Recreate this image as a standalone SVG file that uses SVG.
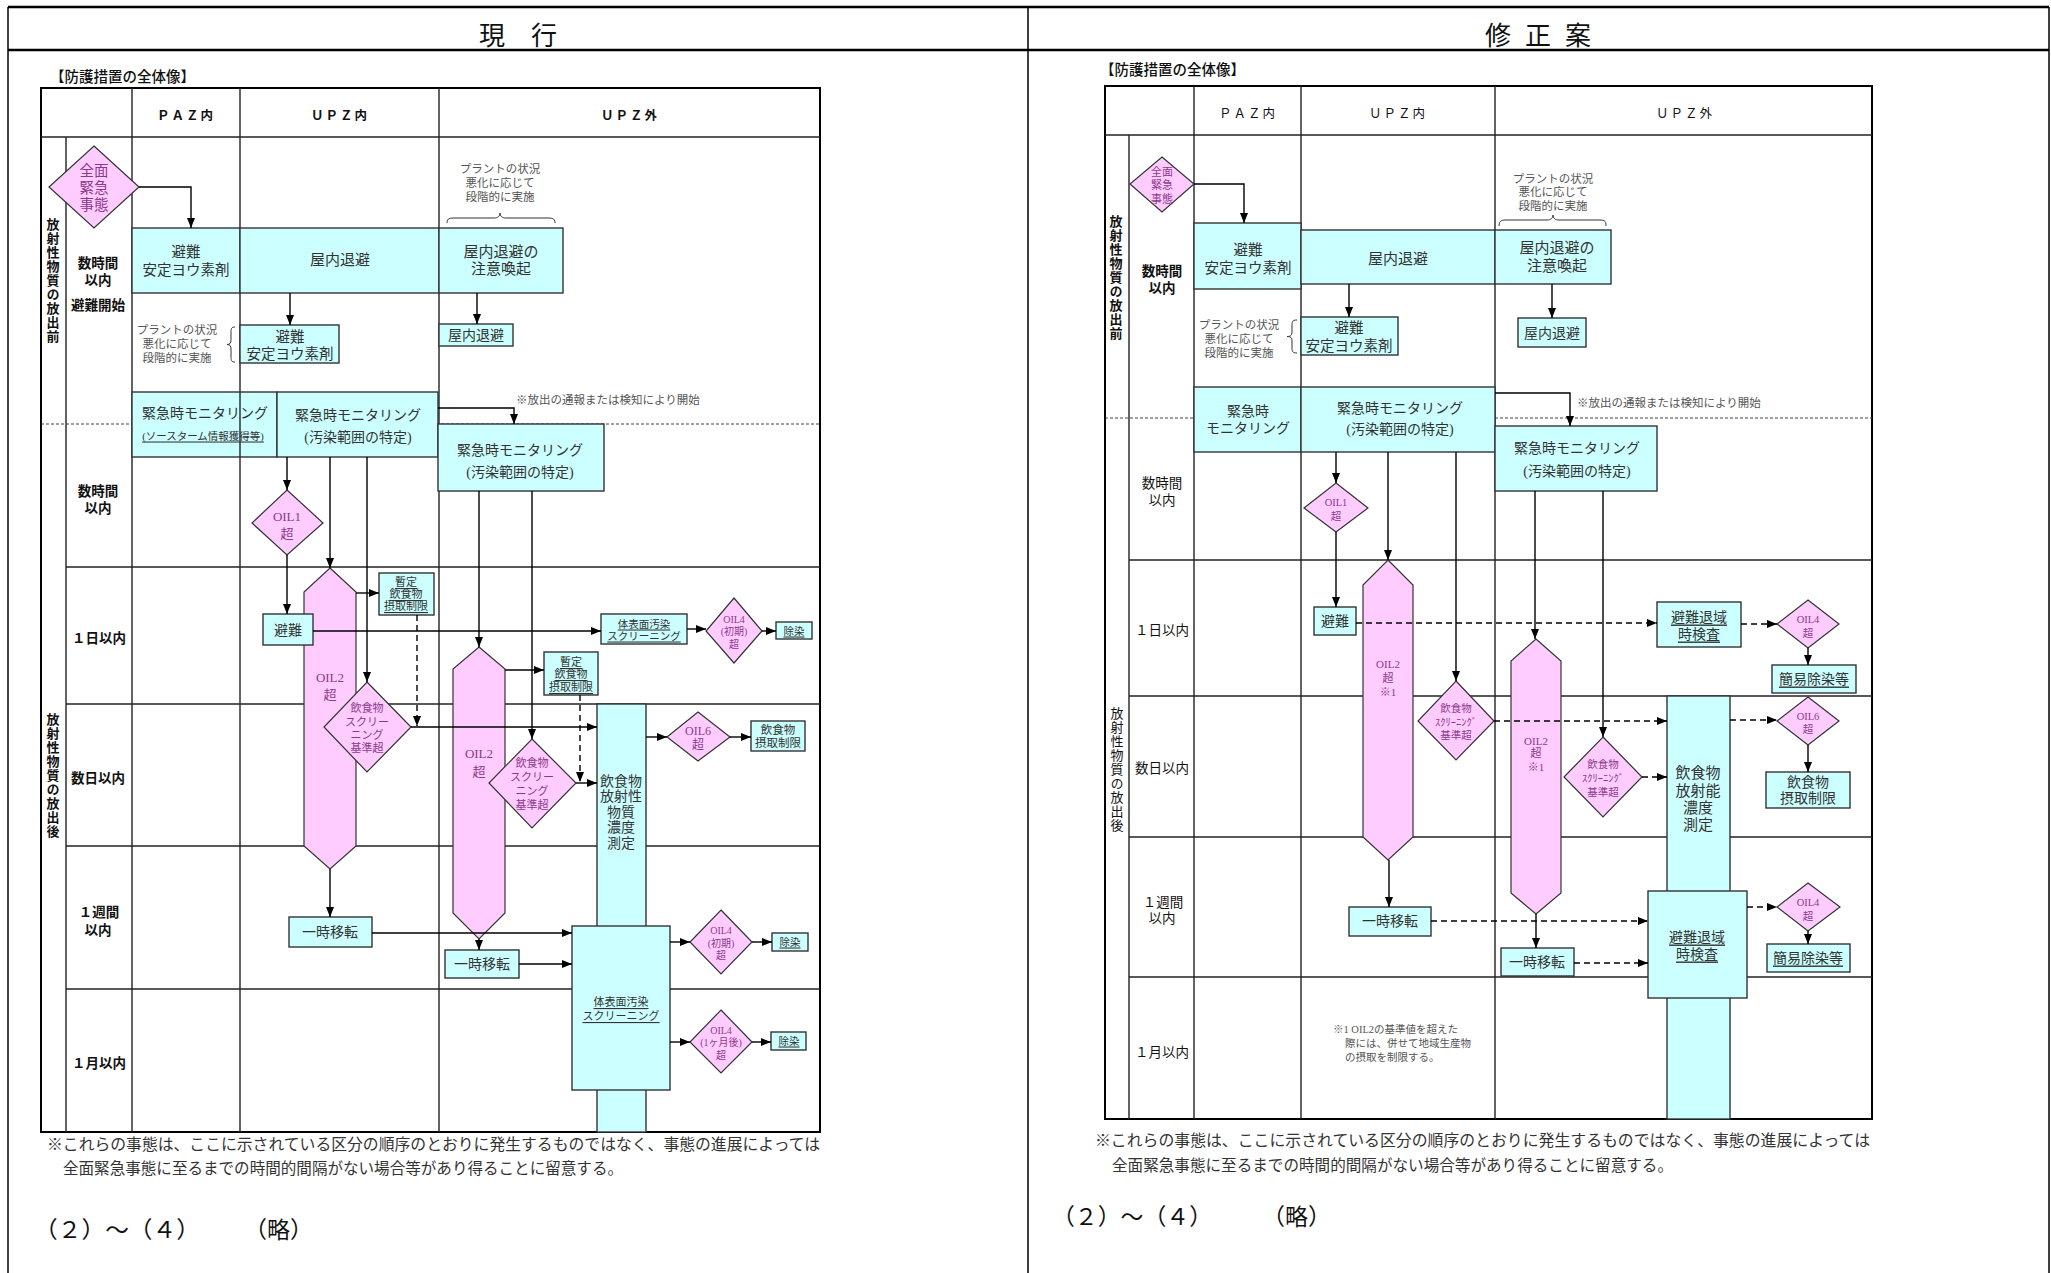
<svg xmlns="http://www.w3.org/2000/svg" width="2051" height="1273" viewBox="0 0 2051 1273">
<defs>
<marker id="ah" markerUnits="userSpaceOnUse" markerWidth="10" markerHeight="8" refX="10" refY="4" orient="auto"><path d="M0,0 L10,4 L0,8 z" fill="#000"/></marker>
<style>
.f{fill:none;stroke:#000;stroke-width:2}
.tl{stroke:#222;stroke-width:1.4}
.dl{stroke:#444;stroke-width:1;stroke-dasharray:3 2}
.c{fill:#ccffff;stroke:#333;stroke-width:1.4}
.p{fill:#ffccff;stroke:#333;stroke-width:1.2}
.a{fill:none;stroke:#000;stroke-width:1.4;marker-end:url(#ah)}
.ad{fill:none;stroke:#000;stroke-width:1.4;stroke-dasharray:6 4;marker-end:url(#ah)}
.br{fill:none;stroke:#333;stroke-width:1}
text{dominant-baseline:central;text-anchor:middle}
.m{font-family:"Liberation Serif","Noto Sans CJK JP",serif;fill:#333}
.g{font-family:"Noto Sans CJK JP",sans-serif;font-weight:bold;fill:#111}
.n{font-family:"Noto Sans CJK JP",sans-serif;fill:#111}
.d{font-family:"Liberation Serif","Noto Sans CJK JP",serif;fill:#8b3a8b}
.u{text-decoration:underline}
.s{fill:#555}
.st{text-anchor:start}
.v{writing-mode:vertical-rl;text-anchor:start;letter-spacing:1px}
</style>
</defs>
<rect width="2051" height="1273" fill="#fff"/>
<!-- frame -->
<g id="frame">
<line x1="8" y1="7" x2="2049" y2="7" stroke="#000" stroke-width="2.5"/>
<line x1="8" y1="50" x2="2049" y2="50" stroke="#000" stroke-width="2.5"/>
<line x1="8" y1="7" x2="8" y2="1273" stroke="#000" stroke-width="1.5"/>
<line x1="1028" y1="7" x2="1028" y2="1273" stroke="#000" stroke-width="1.5"/>
<line x1="2049" y1="7" x2="2049" y2="1273" stroke="#000" stroke-width="1.5"/>
<text class="n" x="518" y="33" font-size="26">現　行</text>
<text class="n" x="1498" y="33" font-size="26">修</text>
<text class="n" x="1538" y="33" font-size="26">正</text>
<text class="n" x="1578" y="33" font-size="26">案</text>
</g>
<!-- left table -->
<g id="left-table">
<text class="n st" x="50" y="75" font-size="14.5" font-weight="500">【防護措置の全体像】</text>
<rect class="f" x="41" y="88" width="779" height="1044"/>
<line class="tl" x1="41" y1="137" x2="820" y2="137"/>
<line class="tl" x1="66" y1="137" x2="66" y2="1132"/>
<line class="tl" x1="132" y1="88" x2="132" y2="1132"/>
<line class="tl" x1="240" y1="88" x2="240" y2="1132"/>
<line class="tl" x1="439" y1="88" x2="439" y2="1132"/>
<line class="tl" x1="66" y1="567" x2="820" y2="567"/>
<line class="tl" x1="66" y1="704" x2="820" y2="704"/>
<line class="tl" x1="66" y1="846" x2="820" y2="846"/>
<line class="tl" x1="66" y1="989" x2="820" y2="989"/>
<line class="dl" x1="41" y1="424" x2="820" y2="424"/>
<text class="g" x="186" y="114" font-size="12.5" letter-spacing="2">ＰＡＺ内</text>
<text class="g" x="340" y="114" font-size="12.5" letter-spacing="2">ＵＰＺ内</text>
<text class="g" x="630" y="114" font-size="12.5" letter-spacing="2">ＵＰＺ外</text>
<text class="g v" x="53" y="218" font-size="13">放射性物質の放出前</text>
<text class="g v" x="53" y="713" font-size="13">放射性物質の放出後</text>
<text class="g" x="98" y="262" font-size="13.5">数時間</text>
<text class="g" x="98" y="279" font-size="13.5">以内</text>
<text class="g" x="98" y="304" font-size="13.5">避難開始</text>
<text class="g" x="98" y="490" font-size="13.5">数時間</text>
<text class="g" x="98" y="507" font-size="13.5">以内</text>
<text class="g" x="99" y="637" font-size="13.5">１日以内</text>
<text class="g" x="98" y="777" font-size="13.5">数日以内</text>
<text class="g" x="99" y="911" font-size="13.5">１週間</text>
<text class="g" x="98" y="929" font-size="13.5">以内</text>
<text class="g" x="99" y="1062" font-size="13.5">１月以内</text>
<text class="m s" x="500" y="169" font-size="11.5">プラントの状況</text>
<text class="m s" x="500" y="183" font-size="11.5">悪化に応じて</text>
<text class="m s" x="500" y="197" font-size="11.5">段階的に実施</text>
<path class="br" d="M447,223 C447,218 450,218 456,218 L494,218 C498,218 500,216 500,213 C500,216 502,218 506,218 L546,218 C552,218 555,218 555,223"/>
<text class="m s" x="177" y="330" font-size="11.5">プラントの状況</text>
<text class="m s" x="177" y="344" font-size="11.5">悪化に応じて</text>
<text class="m s" x="177" y="358" font-size="11.5">段階的に実施</text>
<path class="br" d="M235,327 C231,327 231,329 231,333 L231,340 C231,343 230,344.5 227,344.5 C230,344.5 231,346 231,349 L231,356 C231,360 231,362 235,362"/>
<text class="m s st" x="516" y="400" font-size="11.5">※放出の通報または検知により開始</text>
<text class="m" x="47" y="1144" font-size="15.5" textLength="773" lengthAdjust="spacingAndGlyphs" style="text-anchor:start">※これらの事態は、ここに示されている区分の順序のとおりに発生するものではなく、事態の進展によっては</text>
<text class="m" x="63" y="1168" font-size="15.5" textLength="560" lengthAdjust="spacingAndGlyphs" style="text-anchor:start">全面緊急事態に至るまでの時間的間隔がない場合等があり得ることに留意する。</text>
<text class="n st" x="34" y="1228" font-size="23" textLength="166" lengthAdjust="spacingAndGlyphs">（２）～（４）</text>
<text class="n st" x="244" y="1228" font-size="23">（略）</text>
</g>
<!-- right table -->
<g id="right-table">
<text class="n st" x="1100" y="68" font-size="14.5" font-weight="500">【防護措置の全体像】</text>
<rect class="f" x="1105" y="86" width="767" height="1033"/>
<line class="tl" x1="1105" y1="135" x2="1872" y2="135"/>
<line class="tl" x1="1129" y1="135" x2="1129" y2="1119"/>
<line class="tl" x1="1194" y1="86" x2="1194" y2="1119"/>
<line class="tl" x1="1301" y1="86" x2="1301" y2="1119"/>
<line class="tl" x1="1495" y1="86" x2="1495" y2="1119"/>
<line class="tl" x1="1129" y1="560" x2="1872" y2="560"/>
<line class="tl" x1="1129" y1="696" x2="1872" y2="696"/>
<line class="tl" x1="1129" y1="837" x2="1872" y2="837" stroke="#777" stroke-width="2"/>
<line class="tl" x1="1129" y1="977" x2="1872" y2="977" stroke="#555"/>
<line class="dl" x1="1105" y1="418" x2="1872" y2="418"/>
<text class="n" x="1248" y="112" font-size="12.5" letter-spacing="2">ＰＡＺ内</text>
<text class="n" x="1398" y="112" font-size="12.5" letter-spacing="2">ＵＰＺ内</text>
<text class="n" x="1685" y="112" font-size="12.5" letter-spacing="2">ＵＰＺ外</text>
<text class="g v" x="1116" y="215" font-size="13">放射性物質の放出前</text>
<text class="n v" x="1117" y="707" font-size="13">放射性物質の放出後</text>
<text class="g" x="1162" y="270" font-size="13.5">数時間</text>
<text class="g" x="1162" y="287" font-size="13.5">以内</text>
<text class="n" x="1162" y="482" font-size="13.5">数時間</text>
<text class="n" x="1162" y="499" font-size="13.5">以内</text>
<text class="n" x="1162" y="629" font-size="13.5">１日以内</text>
<text class="n" x="1162" y="767" font-size="13.5">数日以内</text>
<text class="n" x="1163" y="901" font-size="13.5">１週間</text>
<text class="n" x="1162" y="917" font-size="13.5">以内</text>
<text class="n" x="1162" y="1051" font-size="13.5">１月以内</text>
<text class="m s" x="1553" y="179" font-size="11.5">プラントの状況</text>
<text class="m s" x="1553" y="192" font-size="11.5">悪化に応じて</text>
<text class="m s" x="1553" y="206" font-size="11.5">段階的に実施</text>
<path class="br" d="M1499,226 C1499,220 1502,220 1508,220 L1547,220 C1551,220 1553,218 1553,215 C1553,218 1555,220 1559,220 L1598,220 C1604,220 1606,220 1606,226"/>
<text class="m s" x="1239" y="325" font-size="11.5">プラントの状況</text>
<text class="m s" x="1239" y="339" font-size="11.5">悪化に応じて</text>
<text class="m s" x="1239" y="353" font-size="11.5">段階的に実施</text>
<path class="br" d="M1297,320 C1292,320 1292,322 1292,326 L1292,332 C1292,335 1291,336.5 1287,336.5 C1291,336.5 1292,338 1292,341 L1292,347 C1292,351 1292,353 1297,353"/>
<text class="m s st" x="1577" y="403" font-size="11.5">※放出の通報または検知により開始</text>
<text class="m s st" x="1333" y="1029" font-size="10.5">※1 OIL2の基準値を超えた</text>
<text class="m s st" x="1345" y="1043" font-size="10.5">際には、併せて地域生産物</text>
<text class="m s st" x="1345" y="1057" font-size="10.5">の摂取を制限する。</text>
<text class="m" x="1095" y="1140" font-size="15.5" textLength="775" lengthAdjust="spacingAndGlyphs" style="text-anchor:start">※これらの事態は、ここに示されている区分の順序のとおりに発生するものではなく、事態の進展によっては</text>
<text class="m" x="1112" y="1165" font-size="15.5" textLength="561" lengthAdjust="spacingAndGlyphs" style="text-anchor:start">全面緊急事態に至るまでの時間的間隔がない場合等があり得ることに留意する。</text>
<text class="n st" x="1052" y="1215" font-size="23" textLength="160" lengthAdjust="spacingAndGlyphs">（２）～（４）</text>
<text class="n st" x="1262" y="1215" font-size="23">（略）</text>
</g>
<!-- left nodes -->
<g id="L-zenmen"><polygon class="p" points="94,146 139,187 94,228 49,187"/><text class="d" x="94" y="171" font-size="14.5">全面</text><text class="d" x="94" y="188" font-size="14.5">緊急</text><text class="d" x="94" y="205" font-size="14.5">事態</text></g>
<g id="L-hinan1"><rect class="c" x="132" y="228" width="108" height="65"/><text class="m" x="186" y="252" font-size="14.5">避難</text><text class="m" x="186" y="270" font-size="14.5">安定ヨウ素剤</text></g>
<g id="L-okunai"><rect class="c" x="240" y="228" width="199" height="65"/><text class="m" x="340" y="260" font-size="15">屋内退避</text></g>
<g id="L-chui"><rect class="c" x="439" y="228" width="124" height="65"/><text class="m" x="501" y="252" font-size="15">屋内退避の</text><text class="m" x="501" y="269" font-size="15">注意喚起</text></g>
<g id="L-hinan2"><rect class="c" x="240" y="325" width="99" height="38"/><text class="m" x="290" y="337" font-size="14.5">避難</text><text class="m" x="290" y="354" font-size="14.5">安定ヨウ素剤</text></g>
<g id="L-okunai2"><rect class="c" x="439" y="324" width="74" height="22"/><text class="m" x="476" y="335" font-size="14">屋内退避</text></g>
<g id="L-mon1"><rect class="c" x="132" y="392" width="145" height="65"/><line class="tl" x1="240" y1="392" x2="240" y2="457"/><text class="m" x="205" y="413" font-size="14">緊急時モニタリング</text><text class="m u" x="203" y="436" font-size="10.5">(ソースターム情報獲得等)</text></g>
<g id="L-mon2"><rect class="c" x="277" y="392" width="161" height="65"/><text class="m" x="358" y="415" font-size="14">緊急時モニタリング</text><text class="m" x="358" y="437" font-size="14">(汚染範囲の特定)</text></g>
<g id="L-mon3"><rect class="c" x="438" y="424" width="166" height="67"/><text class="m" x="520" y="450" font-size="14">緊急時モニタリング</text><text class="m" x="520" y="472" font-size="14">(汚染範囲の特定)</text></g>
<g id="L-oil1"><polygon class="p" points="287,490 323,523 287,555 252,523"/><text class="d" x="287" y="516" font-size="13">OIL1</text><text class="d" x="287" y="533" font-size="13">超</text></g>
<g id="L-oil2a"><polygon class="p" points="330,568 356,592 356,846 330,869 304,846 304,592"/><text class="d" x="330" y="677" font-size="13">OIL2</text><text class="d" x="330" y="694" font-size="13">超</text></g>
<g id="L-hinan3"><rect class="c" x="263" y="614" width="50" height="31"/><text class="m" x="288" y="630" font-size="14">避難</text></g>
<g id="L-zantei1"><rect class="c" x="379" y="573" width="55" height="42"/><text class="m u" x="406" y="582" font-size="11">暫定</text><text class="m u" x="406" y="594" font-size="11">飲食物</text><text class="m u" x="406" y="606" font-size="11">摂取制限</text></g>
<g id="L-scr1"><polygon class="p" points="367,682 411,727 367,772 324,727"/><text class="d" x="367" y="708" font-size="11">飲食物</text><text class="d" x="367" y="722" font-size="11">スクリー</text><text class="d" x="367" y="735" font-size="11">ニング</text><text class="d" x="367" y="748" font-size="11">基準超</text></g>
<g id="L-oil2b"><polygon class="p" points="479,647 505,669 505,913 479,939 453,913 453,669"/><text class="d" x="479" y="753" font-size="13">OIL2</text><text class="d" x="479" y="771" font-size="13">超</text></g>
<g id="L-zantei2"><rect class="c" x="544" y="652" width="54" height="43"/><text class="m u" x="571" y="662" font-size="11">暫定</text><text class="m u" x="571" y="674" font-size="11">飲食物</text><text class="m u" x="571" y="687" font-size="11">摂取制限</text></g>
<g id="L-scr2"><polygon class="p" points="532,739 576,783 532,828 489,783"/><text class="d" x="532" y="763" font-size="11">飲食物</text><text class="d" x="532" y="777" font-size="11">スクリー</text><text class="d" x="532" y="791" font-size="11">ニング</text><text class="d" x="532" y="805" font-size="11">基準超</text></g>
<g id="L-tall"><rect class="c" x="597" y="704" width="49" height="428"/><text class="m" x="621" y="781" font-size="14">飲食物</text><text class="m" x="621" y="796" font-size="14">放射性</text><text class="m" x="621" y="812" font-size="14">物質</text><text class="m" x="621" y="827" font-size="14">濃度</text><text class="m" x="621" y="843" font-size="14">測定</text></g>
<g id="L-tai1"><rect class="c" x="601" y="614" width="86" height="30"/><text class="m u" x="644" y="624" font-size="10.5">体表面汚染</text><text class="m u" x="644" y="636" font-size="10.5">スクリーニング</text></g>
<g id="L-oil4a"><polygon class="p" points="734,598 762,631 734,663 706,631"/><text class="d" x="734" y="619" font-size="10">OIL4</text><text class="d" x="734" y="631" font-size="10">(初期)</text><text class="d" x="734" y="644" font-size="10">超</text></g>
<g id="L-josen1"><rect class="c" x="776" y="622" width="36" height="17"/><text class="m u" x="794" y="631" font-size="10.5">除染</text></g>
<g id="L-oil6"><polygon class="p" points="698,712 730,737 698,761 667,737"/><text class="d" x="698" y="731" font-size="12">OIL6</text><text class="d" x="698" y="745" font-size="12">超</text></g>
<g id="L-inshoku"><rect class="c" x="751" y="721" width="54" height="30"/><text class="m" x="778" y="730" font-size="11.5">飲食物</text><text class="m" x="778" y="743" font-size="11.5">摂取制限</text></g>
<g id="L-ichiji1"><rect class="c" x="289" y="917" width="83" height="30"/><text class="m" x="330" y="932" font-size="14">一時移転</text></g>
<g id="L-ichiji2"><rect class="c" x="445" y="950" width="74" height="28"/><text class="m" x="482" y="964" font-size="14">一時移転</text></g>
<g id="L-tai2"><rect class="c" x="572" y="926" width="98" height="164"/><text class="m u" x="621" y="1002" font-size="11">体表面汚染</text><text class="m u" x="621" y="1016" font-size="11">スクリーニング</text></g>
<g id="L-oil4b"><polygon class="p" points="721,910 752,942 721,974 690,942"/><text class="d" x="721" y="930" font-size="10">OIL4</text><text class="d" x="721" y="943" font-size="10">(初期)</text><text class="d" x="721" y="955" font-size="10">超</text></g>
<g id="L-josen2"><rect class="c" x="772" y="933" width="36" height="18"/><text class="m u" x="790" y="942" font-size="10.5">除染</text></g>
<g id="L-oil4c"><polygon class="p" points="721,1010 752,1042 721,1073 690,1042"/><text class="d" x="721" y="1030" font-size="10">OIL4</text><text class="d" x="721" y="1042" font-size="10">(1ヶ月後)</text><text class="d" x="721" y="1055" font-size="10">超</text></g>
<g id="L-josen3"><rect class="c" x="771" y="1032" width="35" height="18"/><text class="m u" x="789" y="1041" font-size="10.5">除染</text></g>
<!-- right nodes -->
<g id="R-zenmen"><polygon class="p" points="1162,157 1194,184 1162,212 1130,184"/><text class="d" x="1162" y="172" font-size="11">全面</text><text class="d" x="1162" y="185" font-size="11">緊急</text><text class="d" x="1162" y="199" font-size="11">事態</text></g>
<g id="R-hinan1"><rect class="c" x="1194" y="223" width="107" height="66"/><text class="m" x="1248" y="250" font-size="14.5">避難</text><text class="m" x="1248" y="268" font-size="14.5">安定ヨウ素剤</text></g>
<g id="R-okunai"><rect class="c" x="1301" y="230" width="194" height="54"/><text class="m" x="1398" y="259" font-size="15">屋内退避</text></g>
<g id="R-chui"><rect class="c" x="1495" y="230" width="116" height="54"/><text class="m" x="1557" y="248" font-size="15">屋内退避の</text><text class="m" x="1557" y="266" font-size="15">注意喚起</text></g>
<g id="R-okunai2"><rect class="c" x="1518" y="318" width="68" height="29"/><text class="m" x="1552" y="333" font-size="14">屋内退避</text></g>
<g id="R-hinan2"><rect class="c" x="1301" y="317" width="97" height="38"/><text class="m" x="1349" y="328" font-size="14.5">避難</text><text class="m" x="1349" y="346" font-size="14.5">安定ヨウ素剤</text></g>
<g id="R-mon1"><rect class="c" x="1194" y="387" width="107" height="65"/><text class="m" x="1248" y="411" font-size="14">緊急時</text><text class="m" x="1248" y="428" font-size="14">モニタリング</text></g>
<g id="R-mon2"><rect class="c" x="1301" y="387" width="194" height="65"/><text class="m" x="1400" y="408" font-size="14">緊急時モニタリング</text><text class="m" x="1400" y="429" font-size="14">(汚染範囲の特定)</text></g>
<g id="R-mon3"><rect class="c" x="1495" y="426" width="162" height="65"/><text class="m" x="1577" y="448" font-size="14">緊急時モニタリング</text><text class="m" x="1577" y="471" font-size="14">(汚染範囲の特定)</text></g>
<g id="R-oil1"><polygon class="p" points="1336,483 1368,508 1336,532 1304,508"/><text class="d" x="1336" y="502" font-size="10.5">OIL1</text><text class="d" x="1336" y="516" font-size="10.5">超</text></g>
<g id="R-oil2a"><polygon class="p" points="1388,560 1413,585 1413,837 1388,860 1363,837 1363,585"/><text class="d" x="1388" y="664" font-size="11">OIL2</text><text class="d" x="1388" y="678" font-size="11">超</text><text class="d" x="1388" y="692" font-size="11">※1</text></g>
<g id="R-hinan3"><rect class="c" x="1314" y="607" width="42" height="28"/><text class="m" x="1335" y="621" font-size="14">避難</text></g>
<g id="R-ichiji1"><rect class="c" x="1349" y="907" width="82" height="29"/><text class="m" x="1390" y="921" font-size="14">一時移転</text></g>
<g id="R-scr1"><polygon class="p" points="1456,681 1494,721 1456,760 1418,721"/><text class="d" x="1456" y="708" font-size="10.5">飲食物</text><text class="d" x="1456" y="722" font-size="10.5">ｽｸﾘｰﾆﾝｸﾞ</text><text class="d" x="1456" y="735" font-size="10.5">基準超</text></g>
<g id="R-hinantaiiki1"><rect class="c" x="1657" y="602" width="84" height="45"/><text class="m u" x="1699" y="617" font-size="14">避難退域</text><text class="m u" x="1699" y="634" font-size="14">時検査</text></g>
<g id="R-oil4a"><polygon class="p" points="1808,600 1839,624 1808,648 1777,624"/><text class="d" x="1808" y="619" font-size="10.5">OIL4</text><text class="d" x="1808" y="633" font-size="10.5">超</text></g>
<g id="R-kanni1"><rect class="c" x="1772" y="665" width="84" height="28"/><text class="m u" x="1814" y="679" font-size="14">簡易除染等</text></g>
<g id="R-oil2b"><polygon class="p" points="1536,639 1561,661 1561,893 1536,914 1511,893 1511,661"/><text class="d" x="1536" y="741" font-size="11">OIL2</text><text class="d" x="1536" y="753" font-size="11">超</text><text class="d" x="1536" y="767" font-size="11">※1</text></g>
<g id="R-ichiji2"><rect class="c" x="1501" y="948" width="73" height="28"/><text class="m" x="1537" y="962" font-size="14">一時移転</text></g>
<g id="R-scr2"><polygon class="p" points="1603,737 1642,777 1603,817 1564,777"/><text class="d" x="1603" y="764" font-size="10.5">飲食物</text><text class="d" x="1603" y="778" font-size="10.5">ｽｸﾘｰﾆﾝｸﾞ</text><text class="d" x="1603" y="792" font-size="10.5">基準超</text></g>
<g id="R-tall"><rect class="c" x="1667" y="696" width="63" height="423"/><text class="m" x="1698" y="773" font-size="15">飲食物</text><text class="m" x="1698" y="791" font-size="15">放射能</text><text class="m" x="1698" y="808" font-size="15">濃度</text><text class="m" x="1698" y="825" font-size="15">測定</text></g>
<g id="R-oil6"><polygon class="p" points="1808,697 1839,721 1808,745 1777,721"/><text class="d" x="1808" y="716" font-size="10.5">OIL6</text><text class="d" x="1808" y="729" font-size="10.5">超</text></g>
<g id="R-inshoku"><rect class="c" x="1766" y="772" width="84" height="36"/><text class="m" x="1808" y="782" font-size="14">飲食物</text><text class="m" x="1808" y="798" font-size="14">摂取制限</text></g>
<g id="R-hinantaiiki2"><rect class="c" x="1648" y="891" width="99" height="107"/><text class="m u" x="1697" y="937" font-size="14">避難退域</text><text class="m u" x="1697" y="954" font-size="14">時検査</text></g>
<g id="R-oil4b"><polygon class="p" points="1808,883 1840,907 1808,931 1777,907"/><text class="d" x="1808" y="902" font-size="10.5">OIL4</text><text class="d" x="1808" y="916" font-size="10.5">超</text></g>
<g id="R-kanni2"><rect class="c" x="1767" y="944" width="83" height="28"/><text class="m u" x="1808" y="958" font-size="14">簡易除染等</text></g>
<!-- connectors -->
<g id="connectors">
<path class="a" d="M139,187 H191 V228"/>
<path class="a" d="M290,293 V325"/>
<path class="a" d="M477,293 V324"/>
<path class="a" d="M438,408 H514 V424"/>
<path class="a" d="M287,457 V490"/>
<path class="a" d="M330,457 V568"/>
<path class="a" d="M367,457 V682"/>
<path class="a" d="M287,555 V614"/>
<path class="a" d="M313,631 H601"/>
<path class="a" d="M356,593 H379"/>
<path class="ad" d="M417,615 V726"/>
<path class="a" d="M411,727 H597"/>
<path class="a" d="M479,491 V647"/>
<path class="a" d="M532,491 V739"/>
<path class="a" d="M505,670 H544"/>
<path class="ad" d="M580,695 V782"/>
<path class="a" d="M576,783 H597"/>
<path class="a" d="M687,629 H706"/>
<path class="a" d="M762,631 H776"/>
<path class="a" d="M646,737 H667"/>
<path class="a" d="M730,737 H751"/>
<path class="a" d="M330,869 V917"/>
<path class="a" d="M372,933 H572"/>
<path class="a" d="M479,939 V950"/>
<path class="a" d="M519,964 H572"/>
<path class="a" d="M670,942 H690"/>
<path class="a" d="M752,942 H772"/>
<path class="a" d="M670,1042 H690"/>
<path class="a" d="M752,1042 H771"/>
<path class="a" d="M1194,184 H1244 V223"/>
<path class="a" d="M1552,284 V318"/>
<path class="a" d="M1349,284 V317"/>
<path class="a" d="M1495,393 H1570 V426"/>
<path class="a" d="M1336,452 V483"/>
<path class="a" d="M1388,452 V560"/>
<path class="a" d="M1456,452 V681"/>
<path class="a" d="M1336,532 V607"/>
<path class="ad" d="M1356,623 H1657"/>
<path class="a" d="M1389,860 V907"/>
<path class="ad" d="M1431,921 H1648"/>
<path class="ad" d="M1494,721 H1667"/>
<path class="a" d="M1535,491 V639"/>
<path class="a" d="M1603,491 V737"/>
<path class="ad" d="M1741,624 H1777"/>
<path class="a" d="M1808,648 V665"/>
<path class="a" d="M1536,914 V948"/>
<path class="ad" d="M1574,963 H1648"/>
<path class="ad" d="M1642,777 H1667"/>
<path class="ad" d="M1730,720 H1777"/>
<path class="a" d="M1808,745 V772"/>
<path class="ad" d="M1747,907 H1777"/>
<path class="a" d="M1808,931 V944"/>
</g>
</svg>
